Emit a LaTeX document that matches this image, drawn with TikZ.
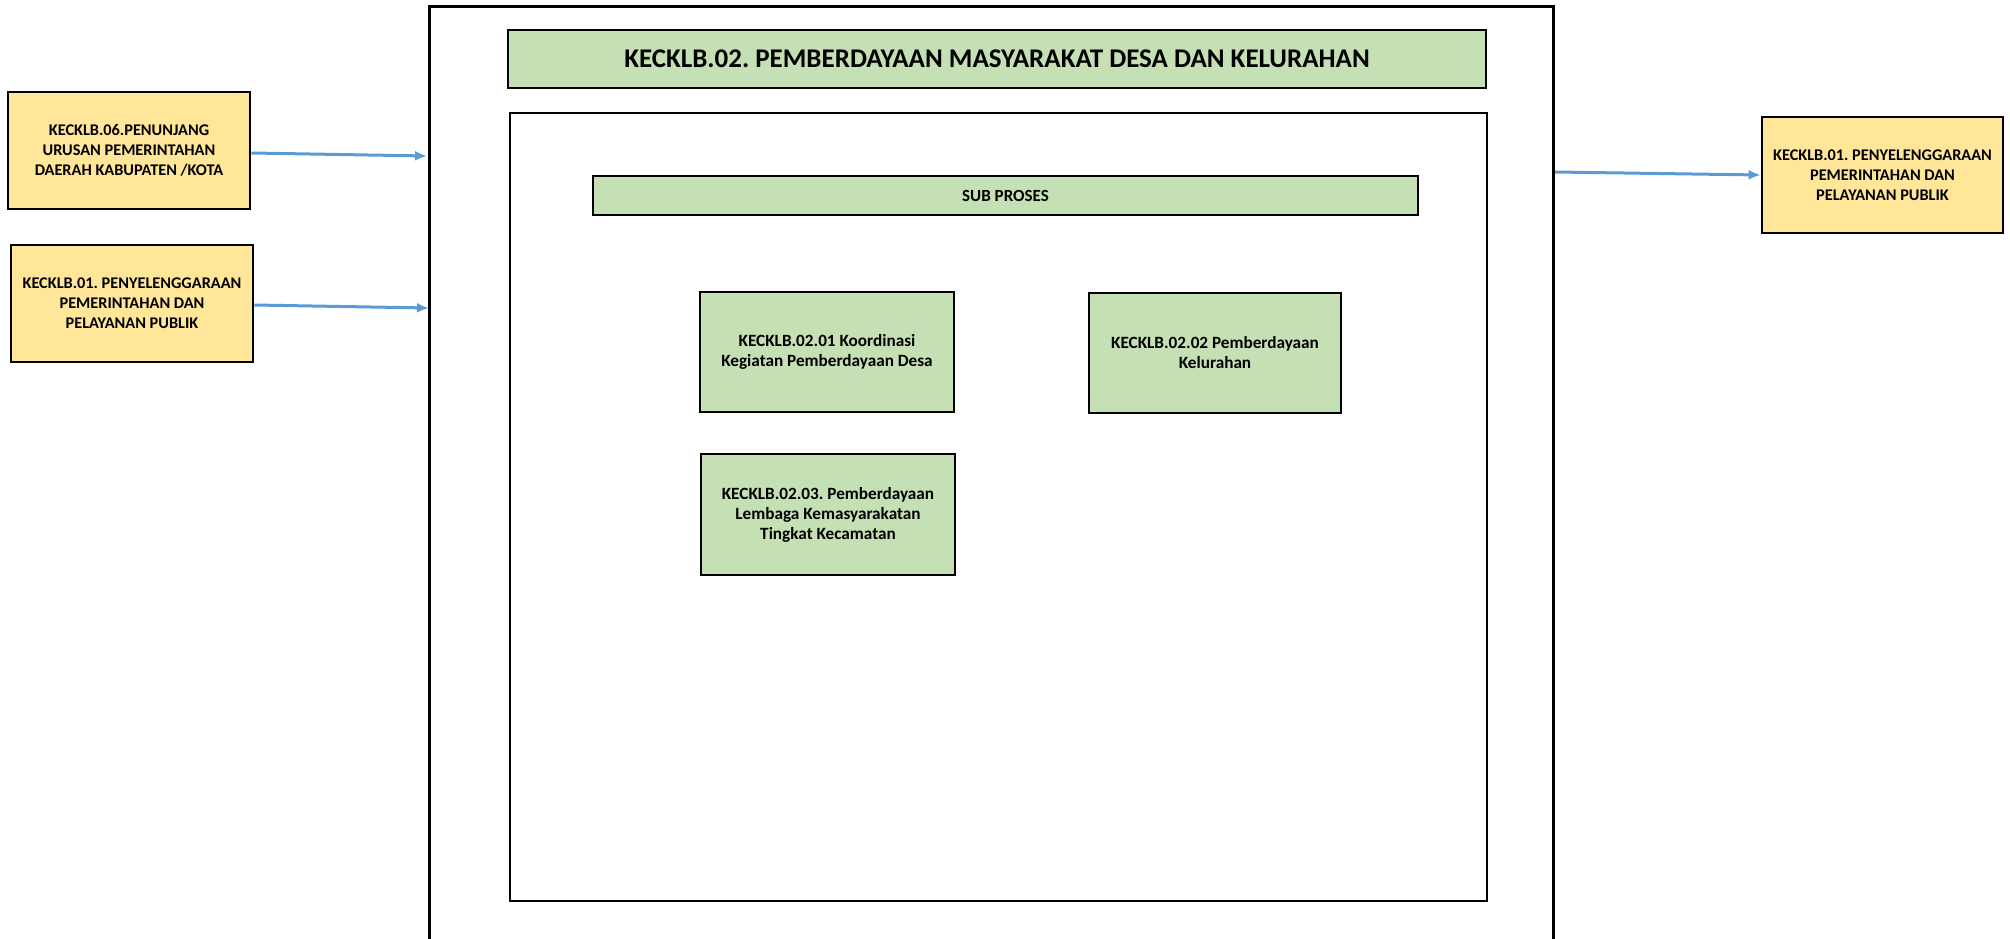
\documentclass[tikz,border=0pt]{standalone}
\usepackage{fontspec}
\setmainfont{Carlito}
\frenchspacing
\usetikzlibrary{arrows.meta}
\definecolor{yel}{HTML}{FFE699}
\definecolor{grn}{HTML}{C5E0B4}
\definecolor{arr}{HTML}{5B9BD5}
\tikzset{
 ybox/.style={draw=black, line width=2.8pt, fill=yel, minimum width=242pt, minimum height=117pt, align=center, inner sep=0pt, font=\bfseries\fontsize{16.3}{20}\selectfont},
 gbox/.style={draw=black, line width=2.8pt, fill=grn, minimum width=254pt, minimum height=120pt, align=center, inner sep=0pt, font=\bfseries\fontsize{17.2}{20}\selectfont},
 flow/.style={draw=arr, line width=3pt, -{Latex[length=12pt,width=10pt]}},
 frame/.style={draw=black, line width=2.8pt}
}
\begin{document}
\begin{tikzpicture}[x=1pt,y=-1pt]
\useasboundingbox (0,0) rectangle (2010,939);
% outer frame (continues below the page)
\node[minimum width=1123pt, minimum height=952pt, inner sep=0pt] (outer) at (991.5,483) {};
\draw[frame] (outer.south west) -- (outer.north west) -- (outer.north east) -- (outer.south east);
% title
\node[frame, fill=grn, minimum width=978pt, minimum height=58pt, inner sep=0pt, font=\bfseries\fontsize{27}{32}\selectfont] (title) at (997,59) {KECKLB.02. PEMBERDAYAAN MASYARAKAT DESA DAN KELURAHAN};
% inner box
\node[frame, minimum width=977pt, minimum height=788pt, inner sep=0pt] (inner) at (998.5,507) {};
% sub proses
\node[frame, fill=grn, minimum width=825pt, minimum height=39pt, inner sep=0pt, font=\bfseries\fontsize{17}{20}\selectfont] (sub) at (1005.5,195.5) {SUB PROSES};
% sub-process boxes
\node[gbox] (g1) at (827,352) {KECKLB.02.01 Koordinasi\\Kegiatan Pemberdayaan Desa};
\node[gbox, minimum width=252pt] (g2) at (1215,353) {KECKLB.02.02 Pemberdayaan\\Kelurahan};
\node[gbox, minimum height=121pt] (g3) at (828,514.5) {KECKLB.02.03. Pemberdayaan\\Lembaga Kemasyarakatan\\Tingkat Kecamatan};
% external boxes
\node[ybox] (l1) at (129,150.5) {KECKLB.06.PENUNJANG\\URUSAN PEMERINTAHAN\\DAERAH KABUPATEN /KOTA};
\node[ybox] (l2) at (132,303.5) {KECKLB.01. PENYELENGGARAAN\\PEMERINTAHAN DAN\\PELAYANAN PUBLIK};
\node[ybox, minimum width=241pt, minimum height=116pt] (r1) at (1882.5,175) {KECKLB.01. PENYELENGGARAAN\\PEMERINTAHAN DAN\\PELAYANAN PUBLIK};
% arrow ends
\coordinate (a1) at (427,156);
\coordinate (a2) at (429,308);
\coordinate (b1) at (1555,172);
\draw[flow] ([yshift=-2.5pt]l1.east) -- (a1);
\draw[flow] ([yshift=-1.5pt]l2.east) -- (a2);
\draw[flow] (b1) -- (r1.west);
\end{tikzpicture}
\end{document}
